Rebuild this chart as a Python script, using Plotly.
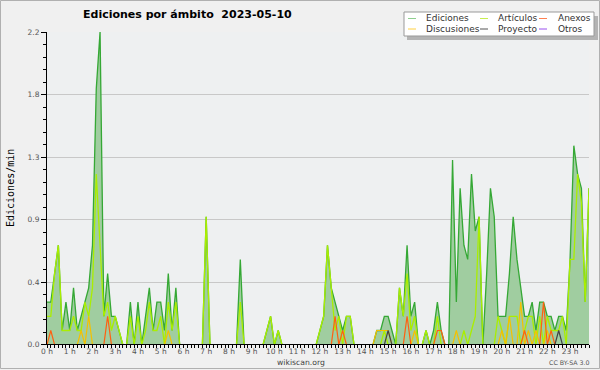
import plotly.graph_objects as go

# ---------------- data (10-minute buckets, edits per minute) ----------------
hour_labels = [f"{h} h" for h in range(24)]
minutes = [i * 10 for i in range(144)]

ediciones = [
    0.3, 0.3, 0.5, 0.7, 0.1, 0.3, 0.1, 0.4, 0.1, 0.2,
    0.3, 0.4, 0.7, 1.8, 2.2, 0.2, 0.5, 0.2, 0.2, 0.1,
    0, 0, 0.3, 0, 0.3, 0, 0.2, 0.4, 0.1, 0.3,
    0.3, 0.1, 0.5, 0.1, 0.4, 0, 0, 0, 0, 0,
    0, 0, 0.9, 0, 0, 0, 0, 0, 0, 0,
    0, 0.6, 0, 0, 0, 0, 0, 0, 0.1, 0.2,
    0, 0.1, 0, 0, 0, 0, 0, 0, 0, 0,
    0, 0, 0.1, 0.2, 0.7, 0.4, 0.3, 0.2, 0.1, 0.2,
    0.2, 0, 0, 0, 0, 0, 0, 0.1, 0.1, 0.2,
    0.2, 0.1, 0, 0.4, 0.2, 0.7, 0.2, 0.3, 0, 0,
    0.1, 0, 0.1, 0.3, 0.1, 0, 0, 1.3, 0.3, 1.1,
    0.7, 0.6, 1.2, 0.8, 0.9, 0, 0.5, 1.1, 0.9, 0.2,
    0.2, 0.2, 0.5, 0.9, 0.6, 0.4, 0.2, 0.2, 0.3, 0.1,
    0.3, 0.3, 0.2, 0.2, 0.1, 0.2, 0.2, 0.1, 0.6, 1.4,
    1.2, 1.1, 0.3, 1.1,
]

articulos = [
    0.2, 0.2, 0.5, 0.7, 0.1, 0.1, 0.1, 0.2, 0.1, 0.1,
    0.3, 0.2, 0.4, 1.2, 0.7, 0.2, 0.3, 0.1, 0.2, 0.1,
    0, 0, 0.2, 0, 0.2, 0, 0.1, 0.3, 0.1, 0.1,
    0.2, 0, 0.3, 0.1, 0.3, 0, 0, 0, 0, 0,
    0, 0, 0.9, 0, 0, 0, 0, 0, 0, 0,
    0, 0.3, 0, 0, 0, 0, 0, 0, 0.1, 0.2,
    0, 0.1, 0, 0, 0, 0, 0, 0, 0, 0,
    0, 0, 0.1, 0.2, 0.7, 0.4, 0.1, 0.2, 0, 0.2,
    0.2, 0, 0, 0, 0, 0, 0, 0, 0, 0.1,
    0, 0, 0, 0.4, 0.2, 0.5, 0.1, 0.2, 0, 0,
    0.1, 0, 0, 0.2, 0, 0, 0, 0, 0, 0,
    0.1, 0, 0.1, 0.2, 0.9, 0, 0, 0, 0, 0.2,
    0.1, 0, 0.2, 0.2, 0.2, 0, 0.1, 0.2, 0.2, 0,
    0.2, 0, 0.2, 0.1, 0.1, 0.1, 0.2, 0, 0.6, 0.6,
    1.2, 1.0, 0.3, 1.1,
]

anexos = [0] * 144
for i, v in {1: 0.1, 16: 0.2, 76: 0.2, 78: 0.1, 95: 0.2, 103: 0.1, 104: 0.1,
             126: 0.1, 131: 0.3, 133: 0.1}.items():
    anexos[i] = v

discusiones = [0] * 144
for i, v in {9: 0.1, 11: 0.2, 32: 0.1, 87: 0.1, 88: 0.1, 89: 0.1, 90: 0.1,
             97: 0.1, 108: 0.1, 120: 0.1, 122: 0.2, 125: 0.3, 127: 0.1,
             129: 0.1, 132: 0.1}.items():
    discusiones[i] = v

proyecto = [0] * 144
for i, v in {90: 0.1, 135: 0.1}.items():
    proyecto[i] = v

otros = [0] * 144

y_tickvals = [0.005, 0.44, 0.88, 1.32, 1.76, 2.2]
y_ticktext = ["0.0", "0.4", "0.9", "1.3", "1.8", "2.2"]

legend_names = ["Ediciones", "Artículos", "Anexos", "Discusiones", "Proyecto", "Otros"]
legend_colors = ["#8fcf8f", "#c8ee50", "#ff8050", "#ffd040", "#555555", "#9a50ee"]

# ---------------- geometry helpers ----------------
W, H = 600, 370
L, R, T, B = 47, 11, 32, 26
PW, PH = W - L - R, H - T - B


def pxx(x):
    return (x - L) / PW


def pxy(y):
    return (H - B - y) / PH


fig = go.Figure()

fig.add_trace(go.Scatter(x=minutes, y=ediciones, mode="lines", name="Ediciones",
                         line=dict(color="#35a835", width=1.3),
                         fill="tozeroy", fillcolor="#a0cda0"))
fig.add_trace(go.Scatter(x=minutes, y=articulos, mode="lines", name="Artículos",
                         line=dict(color="#aaee00", width=1.3)))
fig.add_trace(go.Scatter(x=minutes, y=discusiones, mode="lines", name="Discusiones",
                         line=dict(color="#f5c000", width=1.2)))
fig.add_trace(go.Scatter(x=minutes, y=anexos, mode="lines", name="Anexos",
                         line=dict(color="#ff6010", width=1.2)))
fig.add_trace(go.Scatter(x=minutes, y=proyecto, mode="lines", name="Proyecto",
                         line=dict(color="#444444", width=1.2)))
fig.add_trace(go.Scatter(x=minutes, y=otros, mode="lines", name="Otros",
                         line=dict(color="#9933ee", width=1.2)))

tick_font = dict(family="DejaVu Sans", size=7.5, color="#555555")

fig.update_layout(
    width=W, height=H,
    margin=dict(l=L, r=R, t=T, b=B, pad=0),
    paper_bgcolor="#f0f0f0",
    plot_bgcolor="#eef0f1",
    showlegend=False,
    hovermode=False,
    xaxis=dict(
        range=[0, 1430],
        tickvals=[h * 60 for h in range(24)], ticktext=hour_labels,
        ticks="outside", ticklen=3, tickcolor="black", tickwidth=1,
        ticklabelstandoff=-3,
        showline=True, linecolor="black", linewidth=1,
        showgrid=False, zeroline=False, tickfont=tick_font,
        minor=dict(dtick=10, tick0=0, ticks="outside", ticklen=3, tickcolor="black", showgrid=False),
    ),
    yaxis=dict(
        range=[0.005, 2.2],
        tickvals=y_tickvals, ticktext=y_ticktext,
        ticks="outside", ticklen=5, tickcolor="black", tickwidth=1,
        showline=True, linecolor="black", linewidth=1,
        showgrid=True, gridcolor="#c8c8c8", gridwidth=1, zeroline=False,
        tickfont=tick_font,
        minor=dict(tickvals=[k * 0.088 for k in range(1, 25) if k % 5 != 0],
                   ticks="outside", ticklen=3, tickcolor="black", showgrid=False),
    ),
)

shapes = []
# outer frame
shapes.append(dict(type="rect", xref="paper", yref="paper",
                   x0=pxx(0.5), x1=pxx(599.5), y0=pxy(0.5), y1=pxy(368.5),
                   line=dict(color="#b0b0b0", width=1), layer="below"))
# legend shadow and box
shapes.append(dict(type="rect", xref="paper", yref="paper",
                   x0=pxx(407), x1=pxx(598), y0=pxy(16), y1=pxy(40),
                   fillcolor="#b4b4b4", line=dict(width=0), layer="above"))
shapes.append(dict(type="rect", xref="paper", yref="paper",
                   x0=pxx(404), x1=pxx(594), y0=pxy(12), y1=pxy(36),
                   fillcolor="white", line=dict(color="#999999", width=1), layer="above"))

annotations = []
col_sw = [408, 480, 539]
col_tx = [424, 496, 555.5]
row_y = [18.5, 29]
for k, (nm, col) in enumerate(zip(legend_names, legend_colors)):
    r, c = divmod(k, 3)
    yy = row_y[r]
    shapes.append(dict(type="line", xref="paper", yref="paper",
                       x0=pxx(col_sw[c]), x1=pxx(col_sw[c] + 8), y0=pxy(yy), y1=pxy(yy),
                       line=dict(color=col, width=1), layer="above"))
    annotations.append(dict(text=nm, xref="paper", yref="paper", x=pxx(col_tx[c]), y=pxy(yy),
                            xanchor="left", yanchor="middle", showarrow=False,
                            font=dict(family="DejaVu Sans", size=9, color="#333333")))

annotations.append(dict(text="<b>Ediciones por ámbito\u00a0 2023-05-10</b>", xref="paper", yref="paper",
                        x=pxx(188), y=pxy(14.5), xanchor="center", yanchor="middle", showarrow=False,
                        font=dict(family="DejaVu Sans", size=11, color="black")))
annotations.append(dict(text="Ediciones/min", xref="paper", yref="paper", textangle=-90,
                        x=pxx(10), y=pxy(188), xanchor="center", yanchor="middle", showarrow=False,
                        font=dict(family="DejaVu Sans Mono", size=10, color="black")))
annotations.append(dict(text="wikiscan.org", xref="paper", yref="paper",
                        x=pxx(301), y=pxy(362), xanchor="center", yanchor="middle", showarrow=False,
                        font=dict(family="DejaVu Sans", size=7.7, color="#444444")))
annotations.append(dict(text="CC BY-SA 3.0", xref="paper", yref="paper",
                        x=pxx(569), y=pxy(362.5), xanchor="center", yanchor="middle", showarrow=False,
                        font=dict(family="DejaVu Sans", size=6.3, color="#555555")))

fig.update_layout(shapes=shapes, annotations=annotations)

fig.write_html("out.html",
               config={"displayModeBar": False, "staticPlot": True},
               post_script="document.body.style.margin='0';document.body.style.padding='0';")
